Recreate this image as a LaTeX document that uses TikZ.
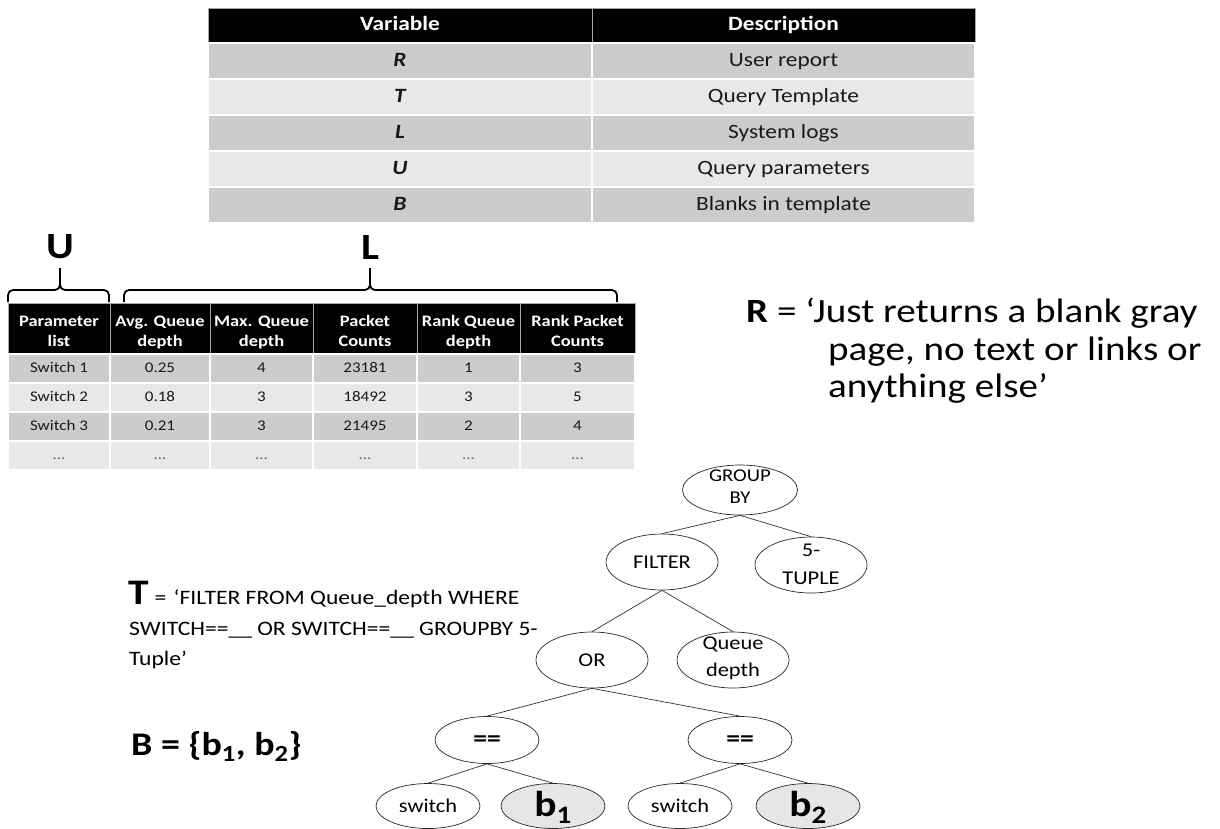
\documentclass[tikz,border=0pt]{standalone}
\usepackage{fontspec}
\setmainfont{Carlito}[FakeStretch=1.15]
\usetikzlibrary{shapes.geometric}
\definecolor{tdark}{RGB}{204,204,204}
\definecolor{tlight}{RGB}{232,232,232}
\definecolor{bfill}{RGB}{230,230,230}
\begin{document}
\begin{tikzpicture}[x=1pt,y=-1pt,
  hdr/.style={fill=black, text=white, draw=gray!70, line width=0.6pt, inner sep=0pt, align=center},
  cell/.style={draw=white, line width=1.5pt, inner sep=0pt, text=black!90},
  bigf/.style={font=\fontsize{20.3}{25}\selectfont, text height=14pt, text depth=4pt},
  smf/.style={font=\fontsize{14.8}{18}\selectfont, text height=10.5pt, text depth=3pt},
  smhf/.style={font=\bfseries\fontsize{16}{20}\selectfont, text height=35pt, text depth=0pt},
  bracestyle/.style={draw=black, line width=1.8pt, rounded corners=5pt},
  tn/.style={ellipse, draw=black!85, line width=0.7pt, inner sep=0pt, minimum width=112pt, minimum height=56pt},
  sn/.style={tn, minimum width=104pt, minimum height=47pt},
  tt/.style={inner sep=0pt, align=center, font=\fontsize{19.5}{27}\selectfont},
  edge/.style={draw=black!80, line width=0.7pt}
]
\useasboundingbox (0,0) rectangle (1220,828);

% ---------- top table ----------
\node[hdr, bigf, font=\bfseries\fontsize{20.3}{25}\selectfont, minimum width=384pt, minimum height=35pt] (hv) at (400,25.5) {Variable};
\node[hdr, bigf, font=\bfseries\fontsize{20.3}{25}\selectfont, minimum width=383pt, minimum height=35pt] (hd) at (783.5,25.5) {Description};
\foreach \y/\c/\v/\d [count=\i] in {61/tdark/R/User report, 97/tlight/T/Query Template, 133/tdark/L/System logs, 169/tlight/U/Query parameters, 205/tdark/B/Blanks in template}{
  \node[cell, bigf, fill=\c, minimum width=384pt, minimum height=36pt] (v\i) at (400,\y) {\bfseries\itshape \v};
  \node[cell, bigf, fill=\c, minimum width=383pt, minimum height=36pt] (d\i) at (783.5,\y) {\d};
}

% ---------- braces ----------
\node[font=\bfseries\fontsize{37}{40}\selectfont, inner sep=0pt] (Ulab) at (60,247) {U};
\node[font=\bfseries\fontsize{37}{40}\selectfont, inner sep=0pt] (Llab) at (370,247) {L};
\draw[bracestyle] (8,302) -- (8,290) -- (60,290) -- (60,268);
\draw[bracestyle] (109,302) -- (109,290) -- (60,290) -- (60,268);
\draw[bracestyle] (124,302) -- (124,290) -- (370,290) -- (370,268);
\draw[bracestyle] (617,302) -- (617,290) -- (370,290) -- (370,268);

% ---------- log table ----------
\node[hdr, smhf, minimum width=102pt, minimum height=51pt] (p1) at (59,328.5) {Parameter\\list};
\node[hdr, smhf, minimum width=100pt, minimum height=51pt] (p2) at (160,328.5) {Avg. Queue\\depth};
\node[hdr, smhf, minimum width=103pt, minimum height=51pt] (p3) at (261.5,328.5) {Max. Queue\\depth};
\node[hdr, smhf, minimum width=104pt, minimum height=51pt] (p4) at (365,328.5) {Packet\\Counts};
\node[hdr, smhf, minimum width=103pt, minimum height=51pt] (p5) at (468.5,328.5) {Rank Queue\\depth};
\node[hdr, smhf, minimum width=115pt, minimum height=51pt] (p6) at (577.5,328.5) {Rank Packet\\Counts};
\foreach \y/\c/\a/\b/\cc/\d/\e/\f [count=\i] in {
  368.5/tdark/Switch 1/0.25/4/23181/1/3,
  397.5/tlight/Switch 2/0.18/3/18492/3/5,
  426.5/tdark/Switch 3/0.21/3/21495/2/4,
  455.5/tlight/{\color{black!60}…}/{\color{black!60}…}/{\color{black!60}…}/{\color{black!60}…}/{\color{black!60}…}/{\color{black!60}…}}{
  \node[cell, smf, fill=\c, minimum width=102pt, minimum height=29pt] (s\i a) at (59,\y) {\a};
  \node[cell, smf, fill=\c, minimum width=100pt, minimum height=29pt] (s\i b) at (160,\y) {\b};
  \node[cell, smf, fill=\c, minimum width=103pt, minimum height=29pt] (s\i c) at (261.5,\y) {\cc};
  \node[cell, smf, fill=\c, minimum width=104pt, minimum height=29pt] (s\i d) at (365,\y) {\d};
  \node[cell, smf, fill=\c, minimum width=103pt, minimum height=29pt] (s\i e) at (468.5,\y) {\e};
  \node[cell, smf, fill=\c, minimum width=115pt, minimum height=29pt] (s\i f) at (577.5,\y) {\f};
}

% ---------- R text ----------
\node[anchor=base west, inner sep=0pt, font=\fontsize{34}{38}\selectfont] (R1) at (746,322) {\textbf{R} = ‘Just returns a blank gray};
\node[anchor=base west, inner sep=0pt, font=\fontsize{34}{38}\selectfont] (R2) at (828,360) {page, no text or links or};
\node[anchor=base west, inner sep=0pt, font=\fontsize{34}{38}\selectfont] (R3) at (828,397) {anything else’};

% ---------- T text ----------
\node[anchor=base west, inner sep=0pt, font=\fontsize{20.5}{30}\selectfont] (T1) at (128,604) {{\bfseries\fontsize{36}{40}\selectfont T}\hspace{6pt}= \hspace{2pt}‘FILTER FROM Queue\_depth WHERE};
\node[anchor=base west, inner sep=0pt, font=\fontsize{20.5}{30}\selectfont] (T2) at (129,635) {SWITCH==\_\_ OR SWITCH==\_\_ GROUPBY 5-};
\node[anchor=base west, inner sep=0pt, font=\fontsize{20.5}{30}\selectfont] (T3) at (129,665) {Tuple’};

% ---------- B text ----------
\node[anchor=base west, inner sep=0pt, font=\bfseries\fontsize{33}{40}\selectfont] (Bset) at (131,755) {B = \{b\textsubscript{1}, b\textsubscript{2}\}};

% ---------- tree ----------
\node[tn, minimum width=115pt, minimum height=50pt] (gb) at (740,490) {};
\node[tn] (filt) at (662,562) {};
\node[tn] (tup) at (811,565) {};
\node[tn] (or) at (592,660) {};
\node[tn] (qd) at (733,660) {};
\node[sn] (eqL) at (487,740) {};
\node[sn] (eqR) at (740,740) {};
\node[sn, minimum height=45pt] (swL) at (428,806) {};
\node[sn, minimum height=45pt, fill=bfill] (b1) at (553,806) {};
\node[sn, minimum height=45pt] (swR) at (680,806) {};
\node[sn, minimum height=45pt, fill=bfill] (b2) at (808,806) {};

\node[tt, font=\fontsize{18}{22}\selectfont] (gbt) at (740,487) {GROUP\\BY};
\node[tt] (filtt) at (662,562) {FILTER};
\node[tt, font=\fontsize{19.5}{28}\selectfont] (tupt) at (811,564) {5-\\TUPLE};
\node[tt] (ort) at (592,660) {OR};
\node[tt, font=\fontsize{19.5}{27}\selectfont] (qdt) at (733,658) {Queue\\depth};
\node[tt, font=\bfseries\fontsize{24}{26}\selectfont] (eqLt) at (487,741) {==};
\node[tt, font=\bfseries\fontsize{24}{26}\selectfont] (eqRt) at (740,741) {==};
\node[tt] (swLt) at (428,806) {switch};
\node[tt] (swRt) at (680,806) {switch};
\node[tt, anchor=base, font=\bfseries\fontsize{36}{40}\selectfont] (b1t) at (553,816) {b\textsubscript{1}};
\node[tt, anchor=base, font=\bfseries\fontsize{36}{40}\selectfont] (b2t) at (808,816) {b\textsubscript{2}};

\draw[edge] (gb.south) -- (filt.north);
\draw[edge] (gb.south) -- (tup.north);
\draw[edge] (filt.south) -- (or.north);
\draw[edge] (filt.south) -- (qd.north);
\draw[edge] (or.south) -- (eqL.north);
\draw[edge] (or.south) -- (eqR.north);
\draw[edge] (eqL.south) -- (swL.north);
\draw[edge] (eqL.south) -- (b1.north);
\draw[edge] (eqR.south) -- (swR.north);
\draw[edge] (eqR.south) -- (b2.north);
\end{tikzpicture}
\end{document}
